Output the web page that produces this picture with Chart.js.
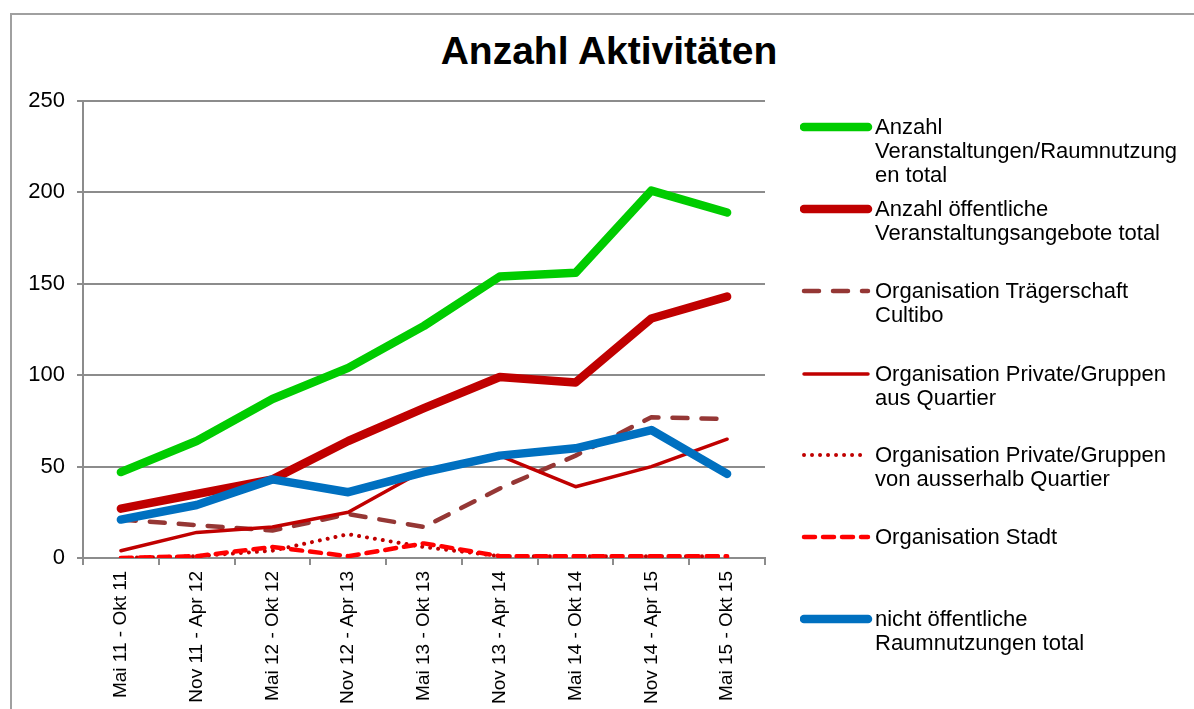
<!DOCTYPE html>
<html lang="de">
<head>
<meta charset="utf-8">
<title>Anzahl Aktivitäten</title>
<script src="https://cdn.jsdelivr.net/npm/chart.js@4.4.1/dist/chart.umd.min.js"></script>
<style>
  html, body { margin:0; padding:0; background:#fff; }
  body { width:1194px; height:709px; position:relative; overflow:hidden; font-family:"Liberation Sans", Arial, sans-serif; }
  #frame { position:absolute; left:10px; top:13px; right:-4px; bottom:-4px; border-left:2px solid #a0a0a0; border-top:2px solid #a0a0a0; }
  #title { position:absolute; left:0; width:1218px; top:29px; text-align:center; font-size:39px; font-weight:bold; color:#000; }
  #chart { position:absolute; left:0; top:0; }
  #legend { position:absolute; left:800px; top:0; }
  .lg { position:absolute; left:0; width:394px; }
  .lg svg { position:absolute; left:0; }
  .lg span { position:absolute; left:75px; top:0; font-size:22px; line-height:24px; white-space:nowrap; color:#000; }
</style>
</head>
<body>
<div id="frame"></div>
<div id="title">Anzahl Aktivitäten</div>
<canvas id="chart" width="1194" height="709"></canvas>
<div id="legend"></div>
<script>
// Halbjahre (Kategorien)
const PERIODS = ['Mai 11 - Okt 11', 'Nov 11 - Apr 12', 'Mai 12 - Okt 12', 'Nov 12 - Apr 13',
  'Mai 13 - Okt 13', 'Nov 13 - Apr 14', 'Mai 14 - Okt 14', 'Nov 14 - Apr 15', 'Mai 15 - Okt 15'];

// Werte
const TOTAL_ALL      = [47, 64, 87, 104, 127, 154, 156, 201, 189];
const TOTAL_PUBLIC   = [27, 35, 43, 64, 82, 99, 96, 131, 143];
const ORG_CULTIBO    = [21, 18, 15, 24, 17, 38, 56, 77, 76];
const ORG_PRIV_IN    = [4, 14, 17, 25, 48, 56, 39, 50, 65];
const ORG_PRIV_OUT   = [0, 1, 4, 13, 6, 1, 1, 1, 1];
const ORG_STADT      = [0, 1, 6, 1, 8, 1, 1, 1, 1];
const TOTAL_PRIVATE  = [21, 29, 43, 36, 47, 56, 60, 70, 46];

const Y_TICKS = [0, 50, 100, 150, 200, 250];

const FONT = '"Liberation Sans", Arial, sans-serif';

const SERIES = [
  { label:'Anzahl Veranstaltungen/Raumnutzungen total', lines:['Anzahl','Veranstaltungen/Raumnutzung','en total'],
    data:TOTAL_ALL, color:'#00CC00', width:8.5, dash:[] },
  { label:'Anzahl öffentliche Veranstaltungsangebote total', lines:['Anzahl öffentliche','Veranstaltungsangebote total'],
    data:TOTAL_PUBLIC, color:'#C00000', width:8.5, dash:[] },
  { label:'Organisation Trägerschaft Cultibo', lines:['Organisation Trägerschaft','Cultibo'],
    data:ORG_CULTIBO, color:'#953735', width:4.5, dash:[15, 14] },
  { label:'Organisation Private/Gruppen aus Quartier', lines:['Organisation Private/Gruppen','aus Quartier'],
    data:ORG_PRIV_IN, color:'#C00000', width:3.5, dash:[] },
  { label:'Organisation Private/Gruppen von ausserhalb Quartier', lines:['Organisation Private/Gruppen','von ausserhalb Quartier'],
    data:ORG_PRIV_OUT, color:'#C00000', width:4, dash:[0.01, 8] },
  { label:'Organisation Stadt', lines:['Organisation Stadt'],
    data:ORG_STADT, color:'#FF0000', width:4.5, dash:[11, 8] },
  { label:'nicht öffentliche Raumnutzungen total', lines:['nicht öffentliche','Raumnutzungen total'],
    data:TOTAL_PRIVATE, color:'#0070C0', width:8.5, dash:[] },
];

const LEGEND_Y = [127, 209, 291, 374, 455, 537, 619];

const datasets = SERIES.map((s, i) => ({
  label: s.label,
  data: s.data,
  borderColor: s.color,
  backgroundColor: s.color,
  borderWidth: s.width,
  borderDash: s.dash,
  borderCapStyle: 'round',
  borderJoinStyle: 'round',
  pointRadius: 0,
  tension: 0,
  fill: false,
  order: SERIES.length - i   // wie Excel: spätere Reihen oben
}));

new Chart(document.getElementById('chart'), {
  type: 'line',
  data: { labels: PERIODS, datasets },
  options: {
    responsive: false,
    animation: false,
    devicePixelRatio: 1,
    layout: { padding: { top: 101, right: 429, bottom: 0, left: 0 } },
    plugins: { legend: { display: false }, tooltip: { enabled: false }, title: { display: false } },
    scales: {
      x: {
        offset: true,
        grid: { offset: true, drawOnChartArea: false, drawTicks: true, tickLength: 7, color: '#8c8c8c', lineWidth: 2 },
        border: { color: '#8c8c8c', width: 2 },
        ticks: { autoSkip: false, minRotation: 90, maxRotation: 90, padding: 6, color: '#000', font: { family: FONT, size: 19 } },
        afterFit: s => { s.height = 151; }
      },
      y: {
        min: 0, max: 250,
        afterBuildTicks: s => { s.ticks = Y_TICKS.map(v => ({ value: v })); },
        grid: { color: '#8c8c8c', lineWidth: 2, tickLength: 6 },
        border: { color: '#8c8c8c', width: 2 },
        ticks: { padding: 12, color: '#000', font: { family: FONT, size: 22 } },
        afterFit: s => { s.width = 83; }
      }
    }
  }
});

// Legende rechts, mehrzeilig wie im Original
const legendEl = document.getElementById('legend');
legendEl.innerHTML = SERIES.map((s, i) => {
  const y = LEGEND_Y[i];
  const dash = s.dash.length ? `stroke-dasharray="${s.dash.join(' ')}"` : '';
  return `<div class="lg" style="top:${y - 12}px;">
    <svg width="74" height="24" style="top:0;"><line x1="4" y1="12" x2="68" y2="12" stroke="${s.color}" stroke-width="${s.width}" stroke-linecap="round" ${dash}/></svg>
    <span>${s.lines.join('<br>')}</span>
  </div>`;
}).join('');
</script>
</body>
</html>
